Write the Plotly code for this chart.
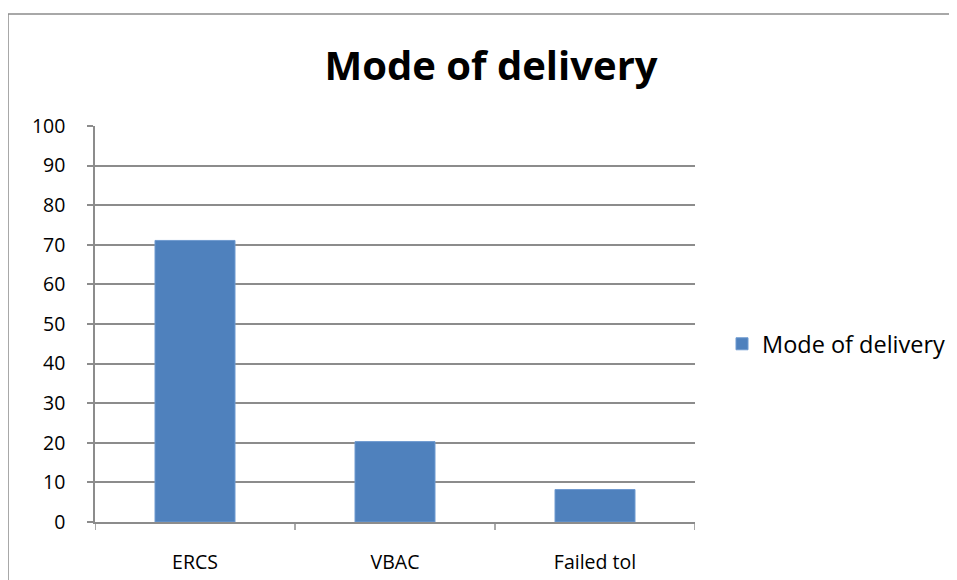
import plotly.graph_objects as go

categories = ["ERCS", "VBAC", "Failed tol"]
values = [71.1, 20.3, 8.2]
series_name = "Mode of delivery"
y_ticks = list(range(0, 101, 10))

W, H = 957, 580
OFF = 8  # page body margin
L, T = 95 - OFF, 126 - OFF
pw, ph = 600, 396
R, B = W - L - pw, H - T - ph

fig = go.Figure()
fig.add_trace(go.Bar(x=categories, y=values, name=series_name,
                     marker=dict(color="#4F81BD", line=dict(color="#6F9AD0", width=1)),
                     showlegend=True))

grid = "#8C8C8C"
fig.update_layout(
    width=W, height=H,
    margin=dict(l=L, r=R, t=T, b=B, pad=0),
    paper_bgcolor="white", plot_bgcolor="white",
    bargap=0.6,
    font=dict(family="Open Sans, Noto Sans, sans-serif", color="black"),
    title=dict(text="<b>Mode of delivery</b>", x=(491 - OFF) / W, xanchor="center",
               y=1 - (66 - OFF) / H, yanchor="middle", yref="container",
               font=dict(size=40, family="Open Sans, sans-serif")),
    showlegend=True,
    legend=dict(x=(714 - L) / pw, xanchor="left", y=(T + ph - (344 - OFF)) / ph, yanchor="middle",
                font=dict(size=23.5), itemwidth=30, bgcolor="rgba(0,0,0,0)"),
    xaxis=dict(showgrid=False, showline=True, linecolor=grid, linewidth=1.5,
               ticks="", tickfont=dict(size=19.5), ticklabelstandoff=22, range=[-0.5, 2.5]),
    yaxis=dict(range=[0, 100], tickvals=y_ticks, showgrid=True, gridcolor=grid, gridwidth=1.5,
               showline=True, linecolor=grid, linewidth=1.5, ticks="outside", ticklen=6,
               tickcolor=grid, tickwidth=1.5, tickfont=dict(size=19.5), ticklabelstandoff=18,
               zeroline=False),
)

# category boundary tick marks below x axis
for b in [-0.5, 0.5, 1.5, 2.5]:
    fig.add_shape(type="line", xref="x", yref="paper", x0=b, x1=b, y0=0, y1=-8 / ph,
                  line=dict(color=grid, width=1.5))

# outer chart border
fig.add_shape(type="rect", xref="paper", yref="paper",
              x0=(8 - OFF - L) / pw, x1=(W + 20 - L) / pw,
              y0=-(B + 20) / ph, y1=(T + ph - (14 - OFF)) / ph,
              line=dict(color="#8C8C8C", width=1.5), fillcolor="rgba(0,0,0,0)", layer="below")

fig.write_html("out.html")
